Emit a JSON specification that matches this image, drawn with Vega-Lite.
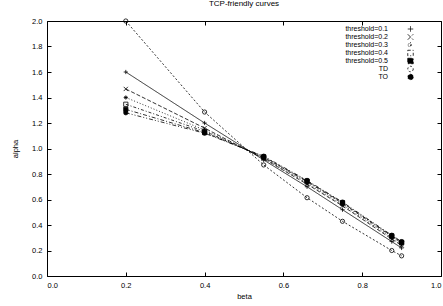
{
  "$schema": "https://vega.github.io/schema/vega-lite/v6.json",
  "width": 394,
  "height": 255,
  "autosize": {"type": "none"},
  "padding": {"left": 47, "top": 21, "right": 2, "bottom": 30},
  "background": "white",
  "title": {"text": "TCP-friendly curves", "fontSize": 8, "font": "Liberation Sans", "fontWeight": "normal", "color": "black", "offset": 9},
  "config": {
    "view": {"stroke": "black", "strokeWidth": 1},
    "font": "Liberation Sans",
    "axis": {"labelFont": "Liberation Sans", "labelFontSize": 7.5, "labelColor": "black", "titleFont": "Liberation Sans", "titleFontSize": 7.5, "titleFontWeight": "normal", "titleColor": "black", "grid": false, "domain": false, "tickColor": "black", "tickSize": -4, "tickWidth": 1}
  },
  "resolve": {"axis": {"x": "independent", "y": "independent"}},
  "data": {"values": [
    {"series": "threshold=0.1", "beta": 0.2, "alpha": 1.6},
    {"series": "threshold=0.1", "beta": 0.4, "alpha": 1.2},
    {"series": "threshold=0.1", "beta": 0.55, "alpha": 0.91},
    {"series": "threshold=0.1", "beta": 0.66, "alpha": 0.7},
    {"series": "threshold=0.1", "beta": 0.75, "alpha": 0.52},
    {"series": "threshold=0.1", "beta": 0.875, "alpha": 0.27},
    {"series": "threshold=0.1", "beta": 0.9, "alpha": 0.22},
    {"series": "threshold=0.2", "beta": 0.2, "alpha": 1.467},
    {"series": "threshold=0.2", "beta": 0.4, "alpha": 1.16},
    {"series": "threshold=0.2", "beta": 0.55, "alpha": 0.92},
    {"series": "threshold=0.2", "beta": 0.66, "alpha": 0.72},
    {"series": "threshold=0.2", "beta": 0.75, "alpha": 0.55},
    {"series": "threshold=0.2", "beta": 0.875, "alpha": 0.29},
    {"series": "threshold=0.2", "beta": 0.9, "alpha": 0.24},
    {"series": "threshold=0.3", "beta": 0.2, "alpha": 1.4},
    {"series": "threshold=0.3", "beta": 0.4, "alpha": 1.145},
    {"series": "threshold=0.3", "beta": 0.55, "alpha": 0.925},
    {"series": "threshold=0.3", "beta": 0.66, "alpha": 0.73},
    {"series": "threshold=0.3", "beta": 0.75, "alpha": 0.56},
    {"series": "threshold=0.3", "beta": 0.875, "alpha": 0.3},
    {"series": "threshold=0.3", "beta": 0.9, "alpha": 0.25},
    {"series": "threshold=0.4", "beta": 0.2, "alpha": 1.347},
    {"series": "threshold=0.4", "beta": 0.4, "alpha": 1.135},
    {"series": "threshold=0.4", "beta": 0.55, "alpha": 0.93},
    {"series": "threshold=0.4", "beta": 0.66, "alpha": 0.74},
    {"series": "threshold=0.4", "beta": 0.75, "alpha": 0.57},
    {"series": "threshold=0.4", "beta": 0.875, "alpha": 0.31},
    {"series": "threshold=0.4", "beta": 0.9, "alpha": 0.26},
    {"series": "threshold=0.5", "beta": 0.2, "alpha": 1.307},
    {"series": "threshold=0.5", "beta": 0.4, "alpha": 1.125},
    {"series": "threshold=0.5", "beta": 0.55, "alpha": 0.935},
    {"series": "threshold=0.5", "beta": 0.66, "alpha": 0.745},
    {"series": "threshold=0.5", "beta": 0.75, "alpha": 0.575},
    {"series": "threshold=0.5", "beta": 0.875, "alpha": 0.315},
    {"series": "threshold=0.5", "beta": 0.9, "alpha": 0.265},
    {"series": "TD", "beta": 0.2, "alpha": 2.0},
    {"series": "TD", "beta": 0.4, "alpha": 1.286},
    {"series": "TD", "beta": 0.55, "alpha": 0.871},
    {"series": "TD", "beta": 0.66, "alpha": 0.614},
    {"series": "TD", "beta": 0.75, "alpha": 0.429},
    {"series": "TD", "beta": 0.875, "alpha": 0.2},
    {"series": "TD", "beta": 0.9, "alpha": 0.158},
    {"series": "TO", "beta": 0.2, "alpha": 1.28},
    {"series": "TO", "beta": 0.4, "alpha": 1.12},
    {"series": "TO", "beta": 0.55, "alpha": 0.94},
    {"series": "TO", "beta": 0.66, "alpha": 0.75},
    {"series": "TO", "beta": 0.75, "alpha": 0.58},
    {"series": "TO", "beta": 0.875, "alpha": 0.32},
    {"series": "TO", "beta": 0.9, "alpha": 0.27}
  ]},
  "layer": [
    {
      "mark": {"type": "line", "color": "black", "strokeWidth": 0.8},
      "encoding": {
        "x": {"field": "beta", "type": "quantitative", "scale": {"domain": [0, 1]}, "axis": {"orient": "bottom", "title": "beta", "values": [0, 0.2, 0.4, 0.6, 0.8, 1], "labelPadding": 9, "titlePadding": 4}},
        "y": {"field": "alpha", "type": "quantitative", "scale": {"domain": [0, 2]}, "axis": {"orient": "left", "title": "alpha", "values": [0, 0.2, 0.4, 0.6, 0.8, 1, 1.2, 1.4, 1.6, 1.8, 2], "labelPadding": 9, "titlePadding": 12}},
        "strokeDash": {
          "field": "series", "type": "nominal",
          "scale": {"domain": ["threshold=0.1", "threshold=0.2", "threshold=0.3", "threshold=0.4", "threshold=0.5", "TD", "TO"],
                    "range": [[1, 0], [4, 2], [1, 2], [3, 2, 1, 2], [4, 2, 1, 2], [2, 2], [4, 2, 1, 2, 1, 2]]},
          "legend": {"title": null, "orient": "none", "legendX": 360, "legendY": 4.5, "symbolSize": 30, "symbolStrokeWidth": 0.8, "symbolStrokeColor": "black", "symbolOpacity": 1, "labelAlign": "right", "labelOffset": -26, "labelFontSize": 7, "labelFont": "Liberation Sans", "labelColor": "black", "rowPadding": -1.2, "padding": 0}
        },
        "detail": {"field": "series"}
      }
    },
    {
      "mark": {"type": "point", "stroke": "black", "strokeWidth": 0.8, "size": 18, "opacity": 1},
      "encoding": {
        "x": {"field": "beta", "type": "quantitative", "axis": {"orient": "top", "labels": false, "title": null, "values": [0, 0.2, 0.4, 0.6, 0.8, 1]}},
        "y": {"field": "alpha", "type": "quantitative", "axis": {"orient": "right", "labels": false, "title": null, "values": [0, 0.2, 0.4, 0.6, 0.8, 1, 1.2, 1.4, 1.6, 1.8, 2]}},
        "shape": {
          "field": "series", "type": "nominal", "legend": null,
          "scale": {"domain": ["threshold=0.1", "threshold=0.2", "threshold=0.3", "threshold=0.4", "threshold=0.5", "TD", "TO"],
                    "range": ["M-1,0H1M0,-1V1", "M-1,-1L1,1M-1,1L1,-1", "M-1,0H1M0,-1V1M-0.7,-0.7L0.7,0.7M-0.7,0.7L0.7,-0.7", "square", "square", "circle", "circle"]}
        },
        "fill": {
          "field": "series", "type": "nominal", "legend": null,
          "scale": {"domain": ["threshold=0.1", "threshold=0.2", "threshold=0.3", "threshold=0.4", "threshold=0.5", "TD", "TO"],
                    "range": ["transparent", "transparent", "transparent", "transparent", "black", "transparent", "black"]}
        }
      }
    }
  ]
}
